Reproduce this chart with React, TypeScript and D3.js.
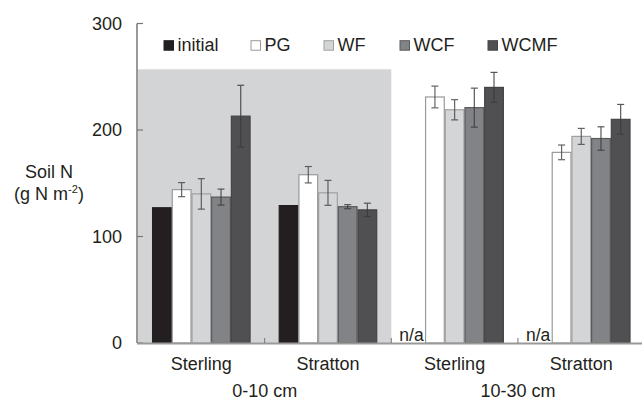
import * as d3 from "d3";

// treatments, one bar each per group
const treatments = ["initial", "PG", "WF", "WCF", "WCMF"];
const groupSites = ["Sterling", "Stratton", "Sterling", "Stratton"];
const depths = ["0-10 cm", "10-30 cm"];
const yTicks = [0, 100, 200, 300];

// soil N (g N m-2), null = n/a
const meansSterling0to10 = [127, 144, 140, 137, 213];
const errSterling0to10 = [0, 6.6, 14.3, 7.5, 29];
const meansStratton0to10 = [129, 158, 141, 128, 125];
const errStratton0to10 = [0, 7.7, 11.7, 1.9, 6.3];
const meansSterling10to30 = [null, 231, 219, 221, 240];
const errSterling10to30 = [null, 10.2, 9.5, 18.3, 14.1];
const meansStratton10to30 = [null, 179, 194, 192, 210];
const errStratton10to30 = [null, 6.9, 7.5, 11, 14];

const means = [meansSterling0to10, meansStratton0to10, meansSterling10to30, meansStratton10to30];
const errs = [errSterling0to10, errStratton0to10, errSterling10to30, errStratton10to30];

// top of grey shading behind the 0-10 cm groups
const shadeTop = 257;

const fills: Record<string, string> = {
  initial: "#231f20",
  PG: "#ffffff",
  WF: "#d4d5d7",
  WCF: "#828386",
  WCMF: "#505053",
};
const strokes: Record<string, string> = {
  initial: "#231f20",
  PG: "#9a9a9a",
  WF: "#a0a0a0",
  WCF: "#5a5a5c",
  WCMF: "#444446",
};
const legendX = [164, 251, 324, 400, 488];

const width = 642;
const height = 400;
const font = "'Liberation Sans', Arial, sans-serif";
const textColor = "#231f20";

export default function App() {
  const x0 = d3.scaleBand<number>().domain(d3.range(groupSites.length)).range([138, 644.6]);
  const x1 = d3
    .scaleBand<string>()
    .domain(treatments)
    .range([0, x0.bandwidth()])
    .paddingInner(0)
    .paddingOuter(0.715);
  const y = d3.scaleLinear().domain([0, 300]).range([343, 23.5]);

  return (
    <svg width={width} height={height} style={{ position: "absolute", left: 0, top: 0, background: "#fff" }}>
      <rect x={138} y={y(shadeTop)} width={x0(2)! - 138} height={y(0) - y(shadeTop)} fill="#d3d4d6" />

      {/* bars */}
      {means.map((row, gi) =>
        row.map((v, ti) => {
          const t = treatments[ti];
          const bx = x0(gi)! + x1(t)!;
          if (v == null) return null;
          return (
            <rect
              key={`b${gi}-${ti}`}
              x={bx + 0.5}
              y={y(v)}
              width={x1.bandwidth() - 1}
              height={y(0) - y(v)}
              fill={fills[t]}
              stroke={strokes[t]}
              strokeWidth={1.2}
            />
          );
        })
      )}

      {/* error bars */}
      {means.map((row, gi) =>
        row.map((v, ti) => {
          const e = errs[gi][ti];
          if (v == null || !e) return null;
          const cx = x0(gi)! + x1(treatments[ti])! + x1.bandwidth() / 2;
          const c = ti === 4 || ti === 3 ? "#3c3c3e" : "#4a4a4a";
          return (
            <g key={`e${gi}-${ti}`} stroke={c} strokeWidth={1.2} opacity={0.85}>
              <line x1={cx} x2={cx} y1={y(v + e)} y2={y(v - e)} />
              <line x1={cx - 3.5} x2={cx + 3.5} y1={y(v + e)} y2={y(v + e)} />
              <line x1={cx - 3.5} x2={cx + 3.5} y1={y(v - e)} y2={y(v - e)} />
            </g>
          );
        })
      )}

      {/* n/a labels */}
      {means.map((row, gi) =>
        row[0] == null ? (
          <text key={`na${gi}`} x={x0(gi)! + 8} y={340.5} fontFamily={font} fontSize={17.5} fill={textColor}>
            n/a
          </text>
        ) : null
      )}

      {/* y axis */}
      <line x1={137} x2={137} y1={y(300)} y2={y(0)} stroke="#555" strokeWidth={1.2} />
      {yTicks.map((t) => (
        <g key={`yt${t}`}>
          <line x1={137} x2={143} y1={y(t)} y2={y(t)} stroke="#777" strokeWidth={1.2} />
          <text x={122} y={y(t)} dy="0.36em" textAnchor="end" fontFamily={font} fontSize={18} fill={textColor}>
            {t}
          </text>
        </g>
      ))}

      {/* x axis */}
      <line x1={137} x2={width} y1={y(0) + 0.5} y2={y(0) + 0.5} stroke="#999" strokeWidth={2} />
      {d3.range(1, groupSites.length).map((i) => (
        <line key={`xt${i}`} x1={x0(i)!} x2={x0(i)!} y1={y(0) - 5} y2={y(0)} stroke="#777" strokeWidth={1} />
      ))}
      {groupSites.map((s, i) => (
        <text
          key={`xl${i}`}
          x={x0(i)! + x0.bandwidth() / 2}
          y={370}
          textAnchor="middle"
          fontFamily={font}
          fontSize={18}
          fill={textColor}
        >
          {s}
        </text>
      ))}
      {depths.map((d, i) => (
        <text
          key={`dl${i}`}
          x={x0(i * 2 + 1)!}
          y={396.5}
          textAnchor="middle"
          fontFamily={font}
          fontSize={18}
          fill={textColor}
        >
          {d}
        </text>
      ))}

      {/* y label */}
      <text x={49} y={178} textAnchor="middle" fontFamily={font} fontSize={18} fill={textColor}>
        Soil N
      </text>
      <text x={49} y={200} textAnchor="middle" fontFamily={font} fontSize={18} fill={textColor}>
        (g N m
        <tspan fontSize={11} dy={-7}>
          -2
        </tspan>
        <tspan dy={7}>)</tspan>
      </text>

      {/* legend */}
      {treatments.map((t, i) => (
        <g key={`lg${t}`}>
          <rect x={legendX[i]} y={40.7} width={9.5} height={9.5} fill={fills[t]} stroke={strokes[t]} strokeWidth={1} />
          <text x={legendX[i] + 13.5} y={50.7} fontFamily={font} fontSize={18} fill={textColor}>
            {t}
          </text>
        </g>
      ))}
    </svg>
  );
}
